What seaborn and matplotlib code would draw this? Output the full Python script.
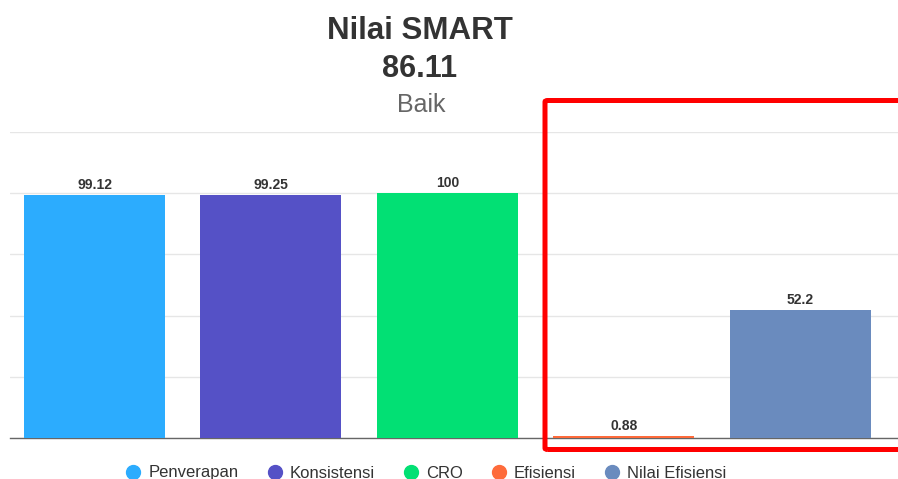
import matplotlib
matplotlib.use("Agg")
import matplotlib.pyplot as plt
import seaborn as sns
import pandas as pd
from matplotlib.lines import Line2D
from matplotlib.patches import FancyBboxPatch

categories = ["Penverapan", "Konsistensi", "CRO", "Efisiensi", "Nilai Efisiensi"]
values = [99.12, 99.25, 100, 0.88, 52.2]
labels = ["99.12", "99.25", "100", "0.88", "52.2"]
colors = ["#2CACFE", "#5551C6", "#02E074", "#FE6B3B", "#6A8BBE"]
title = "Nilai SMART"
score = "86.11"
grade = "Baik"
y_ticks = [0, 25, 50, 75, 100, 125]

sns.set_theme(style="white")
plt.rcParams['font.family'] = ['Liberation Sans', 'DejaVu Sans']

W, H = 898, 479
fig = plt.figure(figsize=(W / 100, H / 100), dpi=100)
ax = fig.add_axes([10 / W, 41 / H, (W - 10) / W, 306 / H])

df = pd.DataFrame({"cat": categories, "val": values})
sns.barplot(data=df, x="cat", y="val", hue="cat", palette=colors,
            legend=False, width=0.8, ax=ax, saturation=1)

ax.set_ylim(0, 125)
ax.set_xlim(-0.479, 4.555)
ax.set_yticks(y_ticks)
ax.set_yticklabels([])
ax.set_xticks([])
ax.set_xlabel("")
ax.set_ylabel("")
ax.grid(axis="y", color="#e6e6e6", linewidth=1)
ax.set_axisbelow(True)
for s in ["top", "right", "left"]:
    ax.spines[s].set_visible(False)
ax.spines["bottom"].set_color("#666666")
ax.spines["bottom"].set_linewidth(1)
ax.spines["bottom"].set_zorder(0.8)
ax.tick_params(left=False, bottom=False)

bars = list(ax.patches)
for bar in bars:
    bar.set_zorder(3)
    bar.set_linewidth(0)
for bar, lab in zip(bars, labels):
    ax.annotate(lab, (bar.get_x() + bar.get_width() / 2, bar.get_height()),
                xytext=(0, 3), textcoords="offset pixels", ha="center", va="bottom",
                fontsize=10, fontweight="bold", color="#333333")

fig.text(420 / W, 1 - 31 / H, title, ha="center", va="center", fontsize=22.5,
         fontweight="bold", color="#333333")
fig.text(420 / W, 1 - 69 / H, score, ha="center", va="center", fontsize=22,
         fontweight="bold", color="#333333")
fig.text(421 / W, 1 - 105 / H, grade, ha="center", va="center", fontsize=18,
         color="#666666")

handles = [Line2D([], [], marker="o", linestyle="", markersize=10,
                  markerfacecolor=c, markeredgecolor=c) for c in colors]
leg = fig.legend(handles, categories, loc="center", ncol=5,
                 bbox_to_anchor=(425.5 / W, 1 - 473 / H), frameon=False,
                 fontsize=12, handlelength=1.0, handletextpad=0.4,
                 columnspacing=1.66, borderpad=0)
for t in leg.get_texts():
    t.set_color("#333333")

rect = FancyBboxPatch((545 / W, 1 - 449.5 / H), (910 - 545) / W, (449.5 - 100.5) / H,
                      boxstyle="round,pad=0,rounding_size=0.003",
                      transform=fig.transFigure, fill=False, edgecolor="#FF0000",
                      linewidth=3.6, clip_on=False)
fig.patches.append(rect)

fig.savefig("out.png", dpi=100)
